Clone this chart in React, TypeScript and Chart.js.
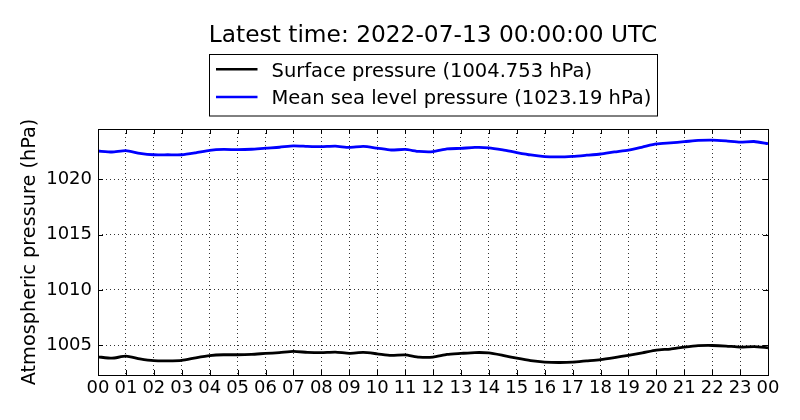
import React, { useEffect, useRef } from "react";
import { Chart, registerables } from "chart.js";

Chart.register(...registerables);

const titleText = "Latest time: 2022-07-13 00:00:00 UTC";
const yAxisTitle = "Atmospheric pressure (hPa)";
const surfaceLabel = "Surface pressure (1004.753 hPa)";
const mslpLabel = "Mean sea level pressure (1023.19 hPa)";

const hours = [
  0, 0.5, 1, 1.5, 2, 2.5, 3, 3.5, 4, 4.5, 5, 5.5, 6, 6.5, 7, 7.5, 8, 8.5, 9, 9.5,
  10, 10.5, 11, 11.5, 12, 12.5, 13, 13.5, 14, 14.5, 15, 15.5, 16, 16.5, 17, 17.5,
  18, 18.5, 19, 19.5, 20, 20.5, 21, 21.5, 22, 22.5, 23, 23.5, 24,
];

const mslp = [
  1022.56, 1022.47, 1022.59, 1022.35, 1022.22, 1022.22, 1022.22, 1022.4, 1022.62,
  1022.7, 1022.68, 1022.72, 1022.82, 1022.9, 1023.03, 1022.98, 1022.95, 1023.0,
  1022.88, 1022.97, 1022.82, 1022.65, 1022.7, 1022.52, 1022.5, 1022.75, 1022.8,
  1022.88, 1022.85, 1022.66, 1022.42, 1022.2, 1022.06, 1022.03, 1022.08, 1022.18,
  1022.29, 1022.48, 1022.65, 1022.92, 1023.2, 1023.3, 1023.4, 1023.52, 1023.55,
  1023.47, 1023.36, 1023.42, 1023.22,
];

const surface = [
  1003.94, 1003.82, 1004.0, 1003.76, 1003.6, 1003.58, 1003.62, 1003.85, 1004.05,
  1004.13, 1004.13, 1004.17, 1004.25, 1004.32, 1004.43, 1004.35, 1004.32, 1004.37,
  1004.26, 1004.34, 1004.22, 1004.08, 1004.12, 1003.92, 1003.92, 1004.16, 1004.25,
  1004.33, 1004.3, 1004.08, 1003.82, 1003.6, 1003.47, 1003.43, 1003.46, 1003.58,
  1003.7, 1003.88, 1004.08, 1004.3, 1004.55, 1004.65, 1004.82, 1004.95, 1004.97,
  1004.92, 1004.82, 1004.87, 1004.76,
];

const xTickValues = [
  0, 1, 2, 3, 4, 5, 6, 7, 8, 9, 10, 11, 12, 13, 14, 15, 16, 17, 18, 19, 20, 21, 22, 23, 24,
];
const xTickLabels = [
  "00", "01", "02", "03", "04", "05", "06", "07", "08", "09", "10", "11", "12",
  "13", "14", "15", "16", "17", "18", "19", "20", "21", "22", "23", "00",
];
const yTickValues = [1005, 1010, 1015, 1020];
const yMin = 1002.3;
const yMax = 1024.55;

const FONT = '"DejaVu Sans", sans-serif';

const framePlugin = {
  id: "frameAndLegend",
  afterDatasetsDraw(chart: any) {
    const { ctx, chartArea, scales } = chart;
    const { left, right, top, bottom } = chartArea;
    ctx.save();
    ctx.strokeStyle = "#000";
    ctx.lineWidth = 1;
    ctx.setLineDash([]);
    ctx.beginPath();
    const tl = 5;
    for (const v of xTickValues) {
      const px = Math.round(scales.x.getPixelForValue(v)) + 0.5;
      ctx.moveTo(px, bottom);
      ctx.lineTo(px, bottom - tl);
      ctx.moveTo(px, top);
      ctx.lineTo(px, top + tl);
    }
    for (const v of yTickValues) {
      const py = Math.round(scales.y.getPixelForValue(v)) + 0.5;
      ctx.moveTo(left, py);
      ctx.lineTo(left + tl, py);
      ctx.moveTo(right, py);
      ctx.lineTo(right - tl, py);
    }
    ctx.stroke();
    ctx.strokeRect(
      Math.round(left) + 0.5,
      Math.round(top) + 0.5,
      Math.round(right - left),
      Math.round(bottom - top)
    );
    ctx.restore();
  },
  afterDraw(chart: any) {
    const { ctx, chartArea } = chart;
    const cx = (chartArea.left + chartArea.right) / 2;
    ctx.save();
    ctx.fillStyle = "#000";
    ctx.font = `23.3px ${FONT}`;
    ctx.textAlign = "center";
    ctx.textBaseline = "alphabetic";
    ctx.fillText(titleText, cx, 41.7);

    // legend box
    ctx.font = `19.5px ${FONT}`;
    const boxW = 448;
    const boxL = Math.round(cx - boxW / 2) + 0.5;
    ctx.strokeStyle = "#000";
    ctx.lineWidth = 1;
    ctx.strokeRect(boxL, 54.5, boxW, 61.5);
    const ds = chart.data.datasets;
    const rows = [69.3, 97];
    ds.forEach((d: any, i: number) => {
      const y = rows[i];
      ctx.strokeStyle = d.borderColor;
      ctx.lineWidth = 2.5;
      ctx.beginPath();
      ctx.moveTo(boxL + 6.5, y);
      ctx.lineTo(boxL + 48, y);
      ctx.stroke();
      ctx.fillStyle = "#000";
      ctx.textAlign = "left";
      ctx.textBaseline = "alphabetic";
      ctx.fillText(d.label, boxL + 62, y + 7.2);
    });
    ctx.restore();
  },
};

export default function App() {
  const ref = useRef<HTMLCanvasElement | null>(null);
  useEffect(() => {
    if (!ref.current) return;
    const chart = new Chart(ref.current, {
      type: "line",
      data: {
        datasets: [
          {
            label: surfaceLabel,
            data: hours.map((h, i) => ({ x: h, y: surface[i] })),
            borderColor: "#000000",
            backgroundColor: "#000000",
            borderWidth: 2.8,
            pointRadius: 0,
            tension: 0.2,
          },
          {
            label: mslpLabel,
            data: hours.map((h, i) => ({ x: h, y: mslp[i] })),
            borderColor: "#0000ff",
            backgroundColor: "#0000ff",
            borderWidth: 2.8,
            pointRadius: 0,
            tension: 0.2,
          },
        ],
      },
      options: {
        animation: false,
        responsive: false,
        maintainAspectRatio: false,
        layout: { padding: { top: 129, right: 32, left: 0, bottom: 0 } },
        plugins: {
          legend: { display: false },
          title: { display: false },
          tooltip: { enabled: false },
        },
        scales: {
          x: {
            type: "linear",
            min: 0,
            max: 24,
            afterBuildTicks: (s: any) => {
              s.ticks = xTickValues.map((v) => ({ value: v }));
            },
            afterFit: (s: any) => {
              s.height = 45;
            },
            ticks: {
              autoSkip: false,
              maxRotation: 0,
              padding: 2.5,
              color: "#000",
              font: { family: FONT, size: 18 },
              callback: (_v: any, i: number) => xTickLabels[i],
            },
            grid: {
              color: "rgba(0,0,0,0.8)",
              lineWidth: 1,
              drawTicks: false,
            },
            border: { display: false, dash: [1, 3] },
          },
          y: {
            type: "linear",
            min: yMin,
            max: yMax,
            afterBuildTicks: (s: any) => {
              s.ticks = yTickValues.map((v) => ({ value: v }));
            },
            afterFit: (s: any) => {
              s.width = 98;
            },
            ticks: {
              padding: 6,
              color: "#000",
              font: { family: FONT, size: 18 },
              callback: (v: any) => String(v),
            },
            grid: {
              color: "rgba(0,0,0,0.8)",
              lineWidth: 1,
              drawTicks: false,
            },
            border: { display: false, dash: [1, 3] },
            title: {
              display: true,
              text: yAxisTitle,
              color: "#000",
              font: { family: FONT, size: 19.3 },
              padding: { top: 18.4, bottom: 0 },
            },
          },
        },
      },
      plugins: [framePlugin],
    });
    return () => chart.destroy();
  }, []);
  return (
    <div style={{ position: "absolute", left: 0, top: 0, width: 800, height: 420, background: "#fff" }}>
      <canvas ref={ref} width={800} height={420} style={{ width: 800, height: 420, display: "block" }} />
    </div>
  );
}
